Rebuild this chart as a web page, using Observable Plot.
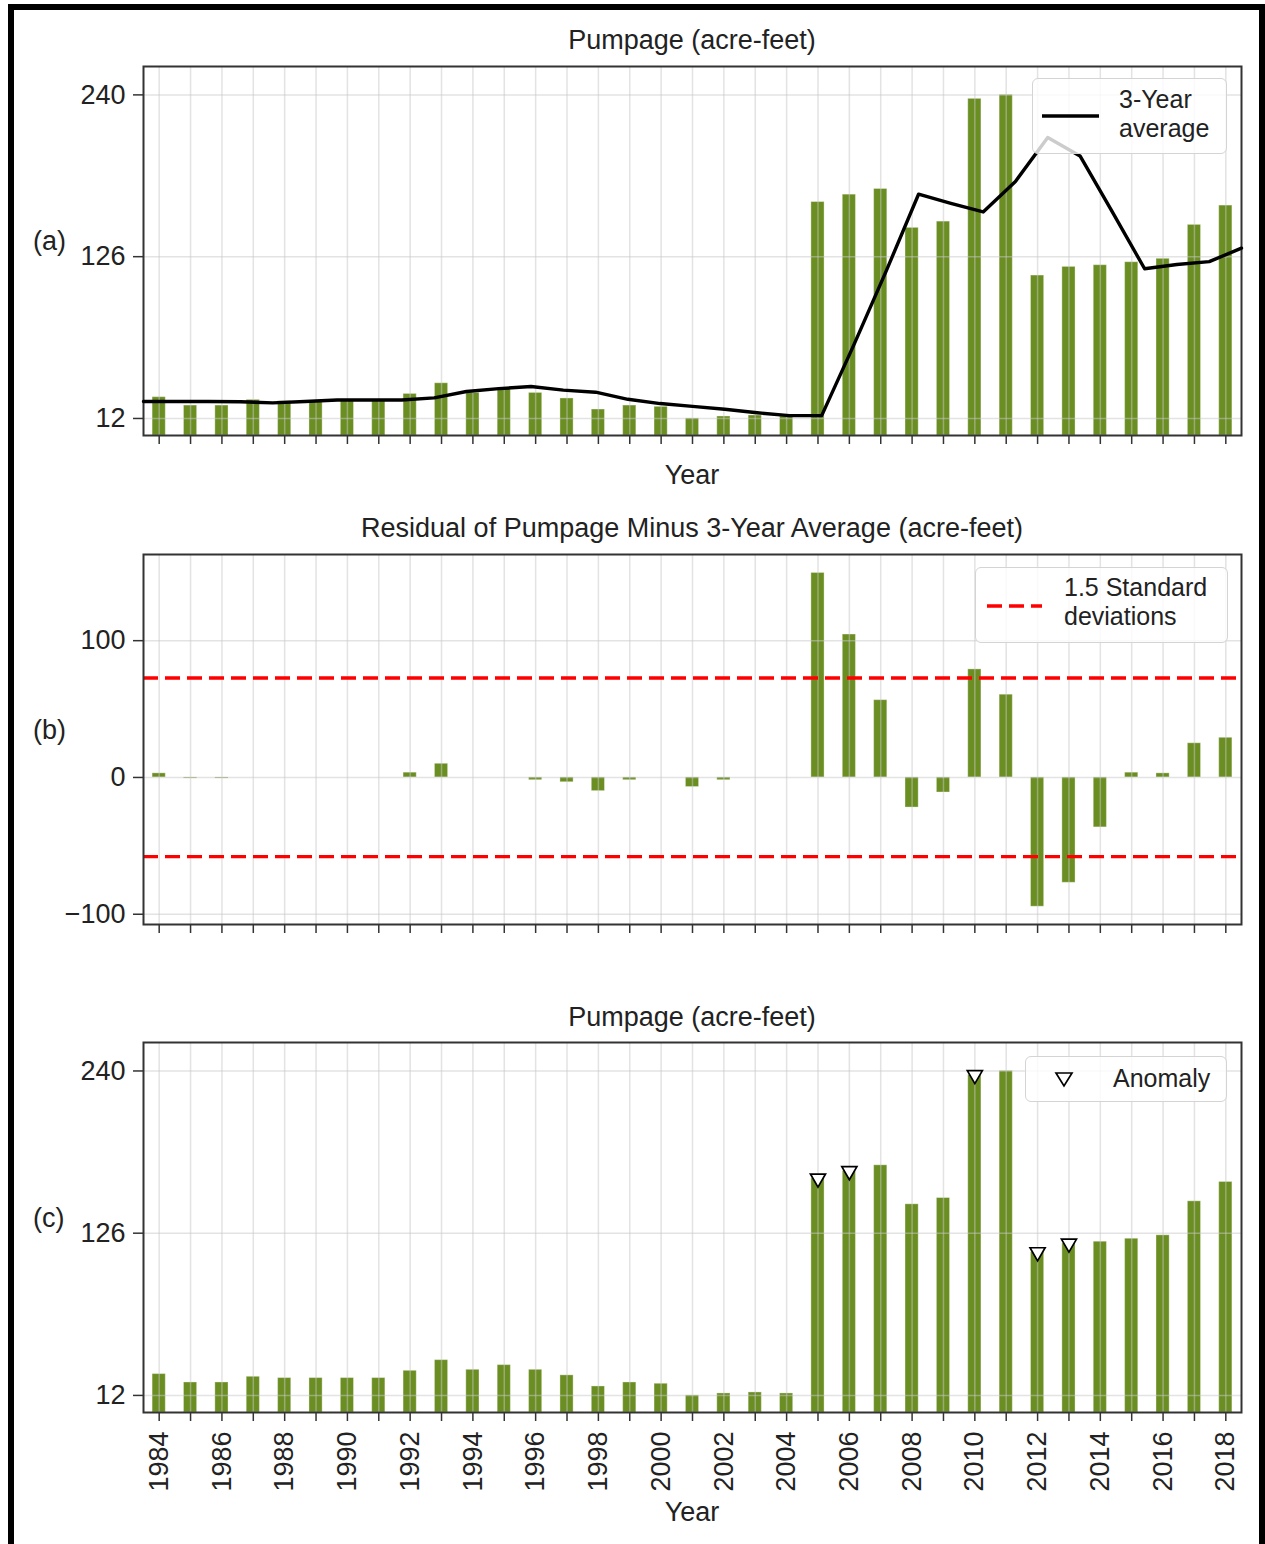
<!DOCTYPE html>
<html><head><meta charset="utf-8">
<script src="https://cdn.jsdelivr.net/npm/d3@7"></script>
<script src="https://cdn.jsdelivr.net/npm/@observablehq/plot@0.6"></script>
<style>
body{margin:0;background:#fff;}
#fig{position:relative;width:1265px;height:1544px;overflow:hidden;font-family:"Liberation Sans",Arial,sans-serif;color:#222;background:#fff;}
#fig svg{position:absolute;left:0;overflow:visible;}
.txt{position:absolute;font-size:27px;line-height:30px;white-space:nowrap;}
.ctr{left:143px;width:1098px;text-align:center;}
.legend{position:absolute;background:rgba(255,255,255,0.8);border:1.5px solid #d4d4d4;border-radius:6px;box-sizing:border-box;}
.legend .lt{position:absolute;font-size:25px;line-height:29px;height:29px;white-space:nowrap;}
#border{position:absolute;left:8px;top:4px;width:1245px;height:1700px;border:6px solid #000;}
</style></head><body><div id="fig"><div id="border"></div></div>
<script>
// ---- data ----
const years = [1984,1985,1986,1987,1988,1989,1990,1991,1992,1993,1994,1995,1996,1997,1998,1999,2000,2001,2002,2003,2004,2005,2006,2007,2008,2009,2010,2011,2012,2013,2014,2015,2016,2017,2018];
const pumpage = [27.0,21.1,21.1,25.1,24.2,24.2,24.2,24.2,29.3,36.8,30.0,33.3,30.0,26.1,18.3,21.1,20.2,12.0,13.4,14.1,13.4,164.5,169.7,173.7,146.3,150.7,237.2,240.0,112.7,118.8,120.0,122.1,124.5,148.4,162.0];
const average3 = [24.0,24.0,24.0,23.8,23.0,24.0,25.0,25.0,25.0,26.5,31.0,33.0,34.5,32.0,30.5,25.5,22.5,20.5,18.5,16.0,14.0,14.0,64.0,116.0,170.0,163.5,157.5,179.0,210.0,197.0,157.5,117.5,120.5,122.5,132.0];
const residual = [3.0,-0.8,-0.8,0,0,0,0,0,3.5,10.0,0,0,-2.0,-3.5,-10.0,-2.0,0,-7.0,-2.0,0,0,149.5,104.5,56.5,-22.0,-11.0,79.0,60.5,-94.5,-77.0,-36.5,3.5,3.0,25.0,29.0];
const anomalyYears = [2005,2006,2010,2012,2013];
const stdBands = [72.7,-57.9];
const pumpTicks = [12,126,240];
const residTicks = [-100,0,100];

// ---- build ----
const data = years.map((year,i)=>({year, pumpage: pumpage[i], avg: average3[i], resid: residual[i]}));
const fig = document.getElementById("fig");
const W = 1265, ML = 143, MR = 24;
const GREEN = "#6b8e23";
const style = {fontSize:"27px", fontFamily:"'Liberation Sans', Arial, sans-serif", color:"#222", background:"transparent", overflow:"visible"};
const xBand = {type:"band", domain: years, paddingInner:0.58, paddingOuter:0.29, align:0.5, round:false};
const bar = (y) => Plot.barY(data, {x:"year", y, fill:GREEN, stroke:"#ffffff", strokeOpacity:0.35, strokeWidth:1});
const grids = (ticks) => [
  Plot.gridX({stroke:"#c8c8c8", strokeOpacity:0.5, strokeWidth:1.5}),
  Plot.gridY({ticks, stroke:"#c8c8c8", strokeOpacity:0.5, strokeWidth:1.5})
];
const yAxis = (ticks, fmt) => Plot.axisY({ticks, tickSize:10, tickPadding:8, label:null, stroke:"#333", strokeWidth:1.5, tickFormat: fmt});
const frame = Plot.frame({stroke:"#333", strokeWidth:2});

function place(svg, top){ svg.style.top = top + "px"; fig.appendChild(svg); }

// Panel (a)
place(Plot.plot({
  width:W, height:495, marginLeft:ML, marginRight:MR, marginTop:66, marginBottom:60, style,
  x: xBand, y:{domain:[0,260]},
  marks:[bar("pumpage"), ...grids(pumpTicks), yAxis(pumpTicks),
    Plot.axisX({tickSize:9, tickFormat:()=>"", label:null, stroke:"#333", strokeWidth:1.5}), frame]
}), 0);
// 3-year average line (drawn on its own point scale spanning the frame)
place(Plot.plot({
  width:W, height:495, marginLeft:ML, marginRight:MR, marginTop:66, marginBottom:60, style,
  x:{type:"point", domain: years, padding:0, round:false, axis:null}, y:{domain:[0,260], axis:null},
  marks:[Plot.lineY(data, {x:"year", y:"avg", stroke:"#000", strokeWidth:3.4})]
}), 0);

// Panel (b)
const minus = d => d < 0 ? "\u2212" + Math.abs(d) : String(d);
place(Plot.plot({
  width:W, height:464, marginLeft:ML, marginRight:MR, marginTop:54, marginBottom:40, style,
  x: xBand, y:{domain:[-107.5,163]},
  marks:[bar("resid"), ...grids(residTicks),
    Plot.ruleY(stdBands, {stroke:"#ff0000", strokeWidth:3.4, strokeDasharray:"15,7"}),
    yAxis(residTicks, minus),
    Plot.axisX({tickSize:9, tickFormat:()=>"", label:null, stroke:"#333", strokeWidth:1.5}), frame]
}), 500);

// Panel (c)
place(Plot.plot({
  width:W, height:554, marginLeft:ML, marginRight:MR, marginTop:52, marginBottom:132, style,
  x: xBand, y:{domain:[0,260]},
  marks:[bar("pumpage"), ...grids(pumpTicks),
    Plot.dot(data.filter(d => anomalyYears.includes(d.year)), {x:"year", y:"pumpage", symbol:"triangle", r:5.6, rotate:180, fill:"#fff", stroke:"#000", strokeWidth:1.7}),
    yAxis(pumpTicks),
    Plot.axisX({tickSize:9, tickPadding:10, tickRotate:-90, tickFormat: d => d % 2 === 0 ? String(d) : "", label:null, stroke:"#333", strokeWidth:1.5}),
    frame]
}), 990);

// ---- text and legends ----
function addText(html, cls, css){ const d=document.createElement("div"); d.className=cls; d.innerHTML=html; Object.assign(d.style, css); fig.appendChild(d); return d; }
addText("Pumpage (acre-feet)", "txt ctr", {top:"25px"});
addText("Year", "txt ctr", {top:"460px"});
addText("Residual of Pumpage Minus 3-Year Average (acre-feet)", "txt ctr", {top:"513px"});
addText("Pumpage (acre-feet)", "txt ctr", {top:"1002px"});
addText("Year", "txt ctr", {top:"1497px"});
addText("(a)", "txt", {left:"33px", top:"226px"});
addText("(b)", "txt", {left:"33px", top:"715px"});
addText("(c)", "txt", {left:"33px", top:"1203px"});

function legend(box, swatch, lines, textLeft, textTop){
  const d=document.createElement("div"); d.className="legend";
  Object.assign(d.style, {left:box[0]+"px", top:box[1]+"px", width:box[2]+"px", height:box[3]+"px"});
  d.innerHTML = swatch + lines.map((t,k)=>`<div class="lt" style="left:${textLeft}px;top:${textTop + 29*k}px">${t}</div>`).join("");
  fig.appendChild(d);
}
legend([1032,78,195,76], `<svg style="position:absolute;left:8px;top:34px" width="60" height="6"><line x1="1" x2="58" y1="3" y2="3" stroke="#000" stroke-width="3.4"/></svg>`, ["3-Year","average"], 86, 6);
legend([975,567,253,76], `<svg style="position:absolute;left:10px;top:35px" width="60" height="6"><line x1="1" x2="56" y1="3" y2="3" stroke="#ff0000" stroke-width="3.4" stroke-dasharray="15,7"/></svg>`, ["1.5 Standard","deviations"], 88, 5);
legend([1025,1056,202,46], `<svg style="position:absolute;left:27px;top:12px" width="22" height="22"><path d="M3,4 L19,4 L11,17 Z" fill="#fff" stroke="#000" stroke-width="1.7"/></svg>`, ["Anomaly"], 87, 7);
</script></body></html>
